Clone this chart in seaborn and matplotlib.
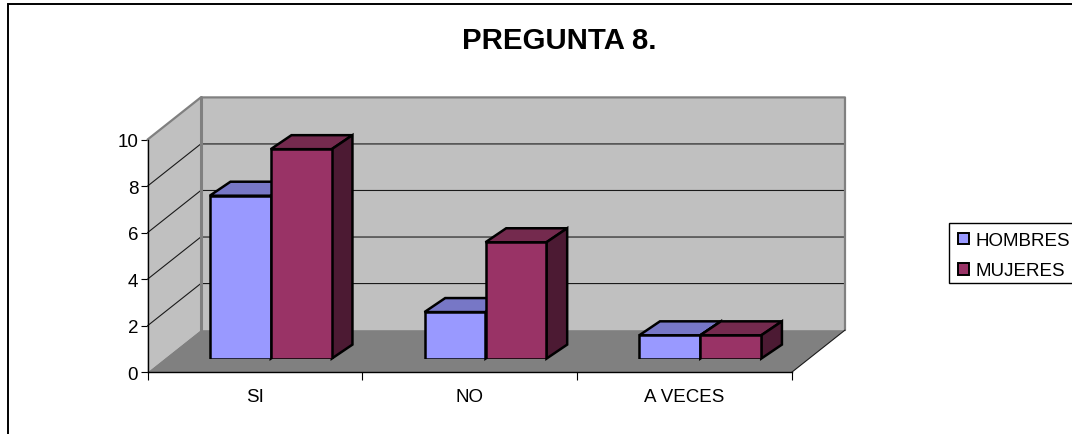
import matplotlib
matplotlib.use("Agg")
import matplotlib.pyplot as plt
from matplotlib.patches import Polygon
from matplotlib.lines import Line2D
from matplotlib.transforms import IdentityTransform
import pandas as pd
import seaborn as sns

categories = ["SI", "NO", "A VECES"]
hombres = [7, 2, 1]
mujeres = [9, 5, 1]
series_names = ["HOMBRES", "MUJERES"]
y_ticks = [0, 2, 4, 6, 8, 10]
title = "PREGUNTA 8."

W, H = 1072, 435
FONT = "Liberation Sans"
LABEL_SIZE = 13.5
sns.set_theme(style="white")
plt.rcParams["font.family"] = [FONT, "DejaVu Sans"]

fig = plt.figure(figsize=(W / 100, H / 100), dpi=100, facecolor="white")
ID = IdentityTransform()


def rect_px(left, right, top, bottom):
    return [left / W, 1 - bottom / H, (right - left) / W, (bottom - top) / H]


# Outer border: only the top and left edges show in the picture
fig.add_artist(Line2D([7.5, 7.5, W], [0, H - 5, H - 5], transform=ID, color="black",
                      linewidth=1.4, zorder=-5, solid_joinstyle="miter"))

# Front plane of the chart box: carries the real axes
ax = fig.add_axes(rect_px(147.5, 791.7, 140.6, 373.3), facecolor="none", zorder=1)
ax.set_xlim(-0.5, 2.5)
ax.set_ylim(0, 10)
ax.set_yticks(y_ticks)
ax.set_xticks(range(3), categories)
ax.set_xticks([-0.5, 0.5, 1.5, 2.5], minor=True)
ax.tick_params(axis="x", which="major", length=0, pad=11.6, labelsize=LABEL_SIZE, colors="black")
ax.tick_params(axis="x", which="minor", length=5.5, width=0.8, color="black", bottom=True)
ax.tick_params(axis="y", length=5.2, width=0.8, pad=1.5, labelsize=LABEL_SIZE, color="black",
               labelcolor="black", left=True)
sns.despine(ax=ax)
for s in ("left", "bottom"):
    ax.spines[s].set_color("black")
    ax.spines[s].set_linewidth(1.0)
    ax.spines[s].set_zorder(6)

fig.canvas.draw()
DX, DY = 53.3, 42.2  # depth of the box in pixels


def disp(a, x, y):
    return a.transData.transform((x, y))


fl = disp(ax, -0.5, 0)
fr = disp(ax, 2.5, 0)
tl = disp(ax, -0.5, 10)
tr = disp(ax, 2.5, 10)
d = (DX, DY)
wall_kw = dict(transform=ID, clip_on=False, linewidth=0)
ax.add_patch(Polygon([fl + d, fr + d, tr + d, tl + d], facecolor="#C0C0C0", zorder=1, **wall_kw))
ax.add_patch(Polygon([fl, fl + d, tl + d, tl], facecolor="#C0C0C0", zorder=1, **wall_kw))
ax.add_patch(Polygon([fl, fr, fr + d, fl + d], facecolor="#808080", zorder=1.5, **wall_kw))
for tick in y_ticks[1:-1]:
    p = disp(ax, -0.5, tick)
    q = disp(ax, 2.5, tick)
    ax.add_line(Line2D([p[0], p[0] + DX, q[0] + DX], [p[1], p[1] + DY, q[1] + DY],
                       transform=ID, color="#1a1a1a", linewidth=0.8, clip_on=False, zorder=1.2))
edge = dict(transform=ID, color="#808080", clip_on=False, zorder=1.3)
ax.add_line(Line2D([tl[0], tl[0] + DX, tr[0] + DX, tr[0] + DX],
                   [tl[1], tl[1] + DY, tr[1] + DY, fr[1] + DY], linewidth=1.6, **edge))
ax.add_line(Line2D([fl[0] + DX, tl[0] + DX], [fl[1] + DY, tl[1] + DY], linewidth=2.2, **edge))
ax.add_line(Line2D([fr[0], fr[0] + DX], [fr[1], fr[1] + DY], transform=ID, color="#1a1a1a",
                   linewidth=0.8, clip_on=False, zorder=1.6))

# Bars sit part-way into the box
bar_ax = fig.add_axes(rect_px(163.4, 807.6, 126.9, 359.6), facecolor="none", zorder=2)
df = pd.DataFrame({
    "cat": categories * 2,
    "serie": [series_names[0]] * 3 + [series_names[1]] * 3,
    "valor": hombres + mujeres,
})
palette = {"HOMBRES": "#9999FF", "MUJERES": "#993366"}
sns.barplot(data=df, x="cat", y="valor", hue="serie", palette=palette, order=categories,
            hue_order=series_names, width=0.568, gap=0, dodge=True, saturation=1,
            edgecolor="black", linewidth=1.8, ax=bar_ax, errorbar=None)
bar_ax.set_xlim(-0.5, 2.5)
bar_ax.set_ylim(0, 10)
bar_ax.set_axis_off()
handles, labels = bar_ax.get_legend_handles_labels()
bar_ax.get_legend().remove()

fig.canvas.draw()
BDX, BDY = 20.7, 14.0
faces = {0: ("#7777C6", "#4D4D80"), 1: ("#742A4E", "#4C1A33")}
for s, cont in enumerate(bar_ax.containers):
    top_col, side_col = faces[s]
    for bar in cont:
        bar.set_zorder(2 + 2 * s + 1)
        x0, x1 = bar.get_x(), bar.get_x() + bar.get_width()
        y1 = bar.get_height()
        a = disp(bar_ax, x0, y1)
        b = disp(bar_ax, x1, y1)
        c = disp(bar_ax, x1, 0)
        o = (BDX, BDY)
        kw = dict(transform=ID, clip_on=False, edgecolor="black", linewidth=1.8,
                  joinstyle="miter", zorder=2 + 2 * s)
        bar_ax.add_patch(Polygon([a, b, b + o, a + o], facecolor=top_col, **kw))
        bar_ax.add_patch(Polygon([b, c, c + o, b + o], facecolor=side_col, **kw))

fig.text(559.7 / W, 1 - 49 / H, title, ha="center", va="baseline", fontsize=21.2,
         fontweight="bold", color="black", family=FONT)

# Legend frame runs off the right edge of the picture
fig.add_artist(Line2D([W, 949, 949, W], [H - 224, H - 224, H - 284, H - 284], transform=ID,
                      color="black", linewidth=1.0, solid_joinstyle="miter"))
leg = fig.legend(handles, labels, loc="upper left", bbox_to_anchor=(958.3 / W, 1 - 233 / H),
                 bbox_transform=fig.transFigure, borderaxespad=0, fontsize=LABEL_SIZE, frameon=False,
                 handlelength=0.55, handleheight=0.55, handletextpad=0.38,
                 labelspacing=0.72, borderpad=0)
for h in leg.legend_handles:
    h.set_edgecolor("black")
    h.set_linewidth(1.4)
for t in leg.get_texts():
    t.set_color("black")

fig.savefig("out.png", dpi=100)
